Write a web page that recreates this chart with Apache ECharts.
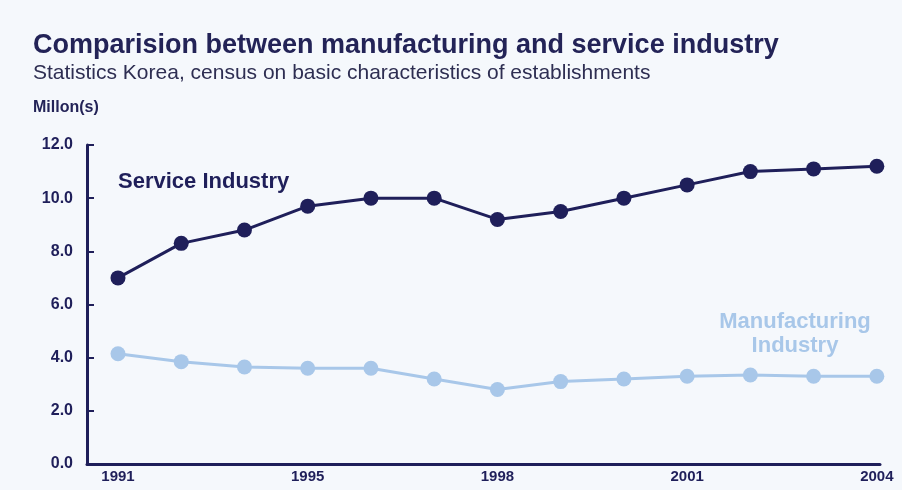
<!DOCTYPE html>
<html>
<head>
<meta charset="utf-8">
<script src="https://cdn.jsdelivr.net/npm/echarts@6/dist/echarts.min.js"></script>
<style>
  html, body { margin: 0; padding: 0; background: #f5f8fc; }
  #chart { width: 902px; height: 490px; }
</style>
</head>
<body>
<div id="chart"></div>
<script>
// census years (1992 not surveyed)
var years = ['1991', '1993', '1994', '1995', '1996', '1997', '1998', '1999', '2000', '2001', '2002', '2003', '2004']
var service = [7.0, 8.3, 8.8, 9.7, 10.0, 10.0, 9.2, 9.5, 10.0, 10.5, 11.0, 11.1, 11.2]
var manufacturing = [4.15, 3.85, 3.65, 3.6, 3.6, 3.2, 2.8, 3.1, 3.2, 3.3, 3.35, 3.3, 3.3]
var labelIdx = [0, 3, 6, 9, 12]

var navy = '#1f1f5a'
var light = '#a8c7e9'
var font = 'Liberation Sans'

function pairs (arr) {
  return arr.map(function (v, i) { return [i, v] })
}

var chart = echarts.init(document.getElementById('chart'))
chart.setOption({
  backgroundColor: '#f5f8fc',
  animation: false,
  title: [
    {
      text: 'Comparision between manufacturing and service industry',
      left: 28,
      top: 27,
      textStyle: { fontFamily: font, fontSize: 27, fontWeight: 'bold', color: '#232357' }
    },
    {
      text: 'Statistics Korea, census on basic characteristics of establishments',
      left: 28,
      top: 58,
      textStyle: { fontFamily: font, fontSize: 21, fontWeight: 'normal', color: '#2e2e52' }
    },
    {
      text: 'Millon(s)',
      left: 28,
      top: 95,
      textStyle: { fontFamily: font, fontSize: 16, fontWeight: 'bold', color: '#232357' }
    }
  ],
  grid: {
    left: 87,
    right: 22,
    top: 145,
    bottom: 26
  },
  xAxis: {
    type: 'value',
    min: -0.49,
    max: 12.05,
    splitLine: { show: false },
    axisTick: { show: false },
    axisLine: { lineStyle: { color: navy, width: 3 } },
    axisLabel: {
      customValues: labelIdx,
      margin: 5,
      fontFamily: font,
      fontSize: 15,
      fontWeight: 'bold',
      color: navy,
      formatter: function (v) { return years[Math.round(v)] }
    }
  },
  yAxis: {
    type: 'value',
    min: 0,
    max: 12,
    interval: 2,
    splitLine: { show: false },
    axisLine: { show: true, onZero: false, lineStyle: { color: navy, width: 3 } },
    axisTick: { show: true, inside: true, length: 7, lineStyle: { color: navy, width: 2 } },
    axisLabel: {
      margin: 14,
      fontFamily: font,
      fontSize: 16,
      fontWeight: 'bold',
      color: navy,
      formatter: function (v) { return v.toFixed(1) }
    }
  },
  series: [
    {
      name: 'Service Industry',
      type: 'line',
      data: pairs(service),
      symbol: 'circle',
      symbolSize: 15,
      lineStyle: { color: navy, width: 3 },
      itemStyle: { color: navy }
    },
    {
      name: 'Manufacturing Industry',
      type: 'line',
      data: pairs(manufacturing),
      symbol: 'circle',
      symbolSize: 15,
      lineStyle: { color: light, width: 3 },
      itemStyle: { color: light }
    }
  ],
  graphic: [
    {
      type: 'text',
      left: 118,
      top: 171,
      style: { text: 'Service Industry', font: 'bold 22px ' + font, fill: navy }
    },
    {
      type: 'text',
      x: 795,
      y: 310,
      style: {
        text: 'Manufacturing\nIndustry',
        font: 'bold 22px ' + font,
        fill: light,
        align: 'center',
        lineHeight: 24
      }
    }
  ]
})
</script>
</body>
</html>
